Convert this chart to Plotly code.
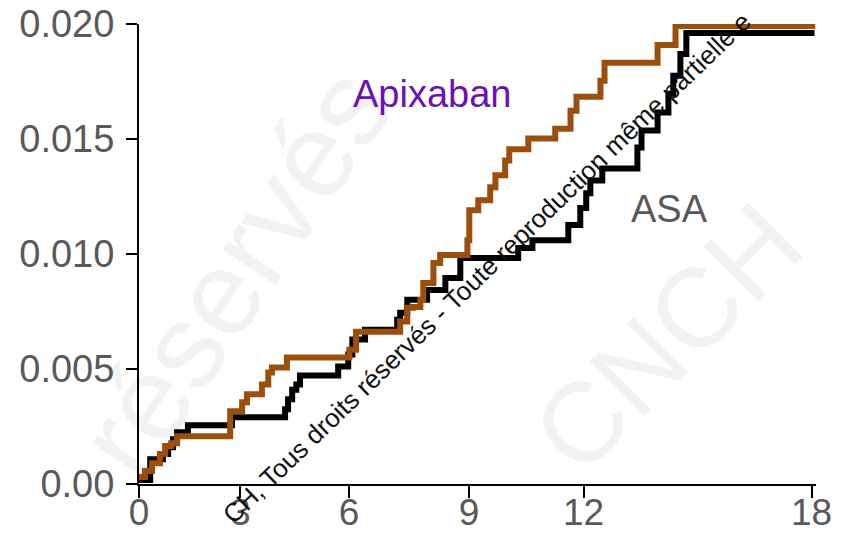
import math
import plotly.graph_objects as go

# ---- data (months, cumulative event rate) ----
asa_x = [0, 0.30, 0.64, 0.78, 0.91, 1.02, 1.31, 2.49, 3.91, 3.99, 4.10, 4.21, 4.31,
         5.33, 5.60, 5.71, 6.05, 6.91, 6.99, 7.18, 7.71, 8.20, 8.60, 10.15, 10.53,
         11.49, 11.81, 11.97, 12.08, 12.40, 13.34, 13.45, 13.88, 14.17, 14.30, 14.49,
         14.65, 18.08]
asa_y = [0.00017, 0.00108, 0.0013, 0.0016, 0.00195, 0.00225, 0.00255, 0.0029, 0.00325,
         0.00368, 0.0041, 0.00433, 0.00472, 0.00511, 0.00563, 0.00628, 0.00671, 0.00714,
         0.00745, 0.00801, 0.00844, 0.00896, 0.00983, 0.01026, 0.0106, 0.01126, 0.0120,
         0.01264, 0.0132, 0.01372, 0.01463, 0.01537, 0.01615, 0.01697, 0.01775, 0.0187,
         0.01961, 0.01961]

apx_x = [0, 0.16, 0.35, 0.56, 0.70, 0.86, 1.02, 2.44, 2.76, 2.89, 3.29, 3.46, 3.56,
         3.96, 5.63, 5.81, 6.99, 7.18, 7.34, 7.53, 7.61, 7.88, 8.06, 8.79, 8.84, 9.08,
         9.40, 9.54, 9.80, 9.91, 10.42, 11.14, 11.55, 11.71, 12.35, 12.46, 13.88, 14.36,
         18.1]
apx_y = [0.0003, 0.00056, 0.0009, 0.0013, 0.00165, 0.00177, 0.00208, 0.00316, 0.00355,
         0.0039, 0.00433, 0.00485, 0.00506, 0.0055, 0.00584, 0.00662, 0.00706, 0.00766,
         0.0077, 0.0080, 0.00874, 0.00961, 0.00996, 0.0106, 0.0119, 0.01234, 0.0129,
         0.01342, 0.01407, 0.01455, 0.01502, 0.01545, 0.01623, 0.01684, 0.01753, 0.01831,
         0.01909, 0.01991, 0.01991]

x_tick_pos = [0, 2.71, 5.62, 8.83, 11.9, 18]
x_tick_text = ["0", "3", "6", "9", "12", "18"]
y_tick_vals = [0, 0.005, 0.010, 0.015, 0.020]
y_tick_text = ["0.00", "0.005", "0.010", "0.015", "0.020"]

FONT = "Liberation Sans, Arial, sans-serif"
GRAY = "#595959"

# page body has an 8px default margin; plot area target on screen:
OFF = 8
PL, PT, PR, PB = 139, 24, 816.5, 484   # screen pixels of plot area
W, H = 842, 535


def px2paper(sx, sy):
    return (sx - PL) / (PR - PL), 1 - (sy - PT) / (PB - PT)


fig = go.Figure()
fig.add_trace(go.Scatter(x=asa_x, y=asa_y, mode="lines", line_shape="hv",
                         line=dict(color="#000000", width=6), name="ASA",
                         showlegend=False))
fig.add_trace(go.Scatter(x=apx_x, y=apx_y, mode="lines", line_shape="hv",
                         line=dict(color="#9C4F0C", width=6), name="Apixaban",
                         showlegend=False))

# faint background watermark letters (below the data), laid out along a diagonal
ADV = {"r": .333, "é": .556, "s": .5, "e": .556, "v": .5, "C": .722, "N": .722, "H": .722}
for word, (cx, cy), ang, size in [("réservés", (225, 265), 56, 120),
                                  ("CNCH", (660, 330), 45, 112)]:
    dx, dy = math.cos(math.radians(ang)), -math.sin(math.radians(ang))
    total = sum(ADV[c] for c in word) * size
    sx, sy = cx - dx * total / 2, cy - dy * total / 2
    acc = 0.0
    for ch in word:
        mid = acc + ADV[ch] * size / 2
        acc += ADV[ch] * size
        lx, ly = px2paper(sx + dx * mid, sy + dy * mid)
        fig.add_shape(type="rect", xref="paper", yref="paper",
                      x0=lx - 0.01, x1=lx + 0.01, y0=ly - 0.01, y1=ly + 0.01,
                      line=dict(width=0), fillcolor="rgba(0,0,0,0)", layer="below",
                      label=dict(text=ch, textangle=-ang, textposition="middle center",
                                 font=dict(family=FONT, size=size, color="#f2f2f2")))

# series labels
fig.add_annotation(xref="x", yref="y", x=7.84, y=0.01697, text="Apixaban",
                   showarrow=False, font=dict(family=FONT, size=38, color="#6A12B5"))
fig.add_annotation(xref="x", yref="y", x=14.2, y=0.01195, text="ASA",
                   showarrow=False, font=dict(family=FONT, size=38, color=GRAY))

# diagonal copyright watermark (visible part)
wx, wy = px2paper(487, 268)
fig.add_annotation(xref="paper", yref="paper", x=wx, y=wy,
                   text="CH, Tous droits réservés - Toute reproduction même partielle e",
                   showarrow=False, textangle=-44,
                   font=dict(family=FONT, size=26, color="#111111"))

fig.update_layout(
    width=W, height=H,
    margin=dict(l=PL - OFF, r=W - (PR - OFF), t=PT - OFF, b=H - (PB - OFF)),
    paper_bgcolor="white", plot_bgcolor="rgba(0,0,0,0)",
    font=dict(family=FONT, size=38, color=GRAY),
    showlegend=False,
)
fig.update_xaxes(range=[0, 18.12], tickvals=x_tick_pos, ticktext=x_tick_text,
                 automargin=False, ticklabelstandoff=-17, ticklabeloverflow="allow",
                 showgrid=False, zeroline=False, showline=True, linecolor="black",
                 linewidth=2, ticks="outside", ticklen=12, tickwidth=2,
                 tickcolor="black", tickfont=dict(family=FONT, size=37, color=GRAY))
fig.update_yaxes(range=[0, 0.020], tickvals=y_tick_vals, ticktext=y_tick_text,
                 automargin=False, ticklabelstandoff=4, ticklabeloverflow="allow",
                 showgrid=False, zeroline=False, showline=True, linecolor="black",
                 linewidth=2, ticks="outside", ticklen=11, tickwidth=2,
                 tickcolor="black", tickfont=dict(family=FONT, size=38, color=GRAY))

fig.write_html("out.html")
